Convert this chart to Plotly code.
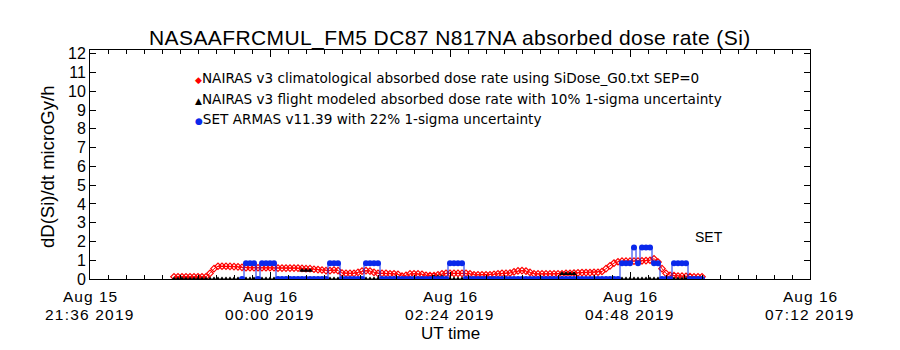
import pandas as pd
import plotly.graph_objects as go

# ---------------- data ----------------
T_START = "2019-08-15 21:36"
T_END = "2019-08-16 07:12"

# NAIRAS v3 climatological absorbed dose rate (microGy/h), sampled every 192 s
red_start = "2019-08-15 22:43:12"
red_step_s = 192
red_values = [
    0.12, 0.12, 0.12, 0.12, 0.12, 0.12, 0.12, 0.12, 0.12, 0.30,
    0.55, 0.68, 0.68, 0.68, 0.67, 0.66, 0.65, 0.62, 0.60, 0.60,
    0.60, 0.60, 0.60, 0.60, 0.60, 0.60, 0.58, 0.58, 0.58, 0.58,
    0.58, 0.58, 0.57, 0.55, 0.55, 0.52, 0.50, 0.48, 0.45, 0.45,
    0.48, 0.45, 0.32, 0.30, 0.30, 0.30, 0.35, 0.42, 0.45, 0.42,
    0.35, 0.30, 0.30, 0.30, 0.28, 0.28, 0.25, 0.15, 0.20, 0.27,
    0.28, 0.27, 0.25, 0.20, 0.18, 0.18, 0.22, 0.28, 0.30, 0.30,
    0.30, 0.30, 0.30, 0.30, 0.28, 0.22, 0.22, 0.22, 0.22, 0.22,
    0.25, 0.28, 0.30, 0.30, 0.32, 0.38, 0.43, 0.45, 0.42, 0.35,
    0.28, 0.27, 0.27, 0.27, 0.27, 0.27, 0.27, 0.28, 0.30, 0.30,
    0.32, 0.33, 0.34, 0.34, 0.34, 0.35, 0.36, 0.40, 0.55, 0.70,
    0.85, 0.92, 0.95, 0.95, 0.95, 0.95, 0.96, 0.97, 0.98, 1.00,
    1.08, 0.90, 0.55, 0.30, 0.20, 0.18, 0.16, 0.15, 0.14, 0.13,
    0.12, 0.12, 0.12,
]

# NAIRAS v3 flight modeled absorbed dose rate (same sampling as above)
black_values = [
    0, 0, 0, 0, 0, 0, 0, 0, 0, 0,
    0, 0, 0, 0, 0, 0, 0, 0, 0, 0,
    0, 0, 0, 0, 0, 0, 0, 0, 0, 0,
    0, 0, 0.45, 0.45, 0.45, 0, 0, 0, 0, 0,
    0, 0, 0, 0, 0, 0, 0, 0, 0, 0,
    0, 0, 0, 0, 0, 0, 0, 0, 0, 0,
    0, 0, 0, 0, 0, 0.10, 0.10, 0.10, 0, 0,
    0, 0, 0, 0, 0, 0, 0, 0, 0, 0,
    0, 0, 0, 0, 0, 0, 0, 0, 0, 0,
    0, 0, 0, 0, 0, 0, 0, 0.28, 0.28, 0.28,
    0.28, 0, 0, 0, 0, 0, 0, 0, 0, 0,
    0, 0, 0, 0, 0, 0, 0, 0, 0, 0,
    0, 0, 0, 0, 0, 0, 0, 0, 0, 0,
    0, 0, 0,
]

# SET ARMAS v11.39 absorbed dose rate, sampled every 192 s
blue_start = "2019-08-15 23:37:36"
blue_step_s = 192
blue_values = [
    0, 0.84, 0.84, 0.84, 0, 0.84, 0.84, 0.84, 0.84, 0,
    0, 0, 0, 0, 0, 0, 0, 0, 0, 0,
    0, 0, 0.84, 0.84, 0.84, 0, 0, 0, 0, 0,
    0, 0.84, 0.84, 0.84, 0.84, 0, 0, 0, 0, 0,
    0, 0, 0, 0, 0, 0, 0, 0, 0, 0,
    0, 0, 0.84, 0.84, 0.84, 0.84, 0, 0, 0, 0,
    0, 0, 0, 0, 0, 0, 0, 0, 0, 0,
    0, 0, 0, 0, 0, 0, 0, 0, 0, 0,
    0, 0, 0, 0, 0, 0, 0, 0, 0, 0,
    0, 0, 0, 0, 0, 0.84, 0.84, 0.84, 1.68, 0.84,
    1.68, 1.68, 1.68, 0.84, 0.84, 0, 0, 0, 0.84, 0.84,
    0.84, 0.84, 0, 0, 0, 0,
]

x_tick_times = ["2019-08-15 21:36", "2019-08-16 00:00", "2019-08-16 02:24",
                "2019-08-16 04:48", "2019-08-16 07:12"]
x_tick_dates = ["Aug 15", "Aug 16", "Aug 16", "Aug 16", "Aug 16"]
x_tick_clock = ["21:36 2019", "00:00 2019", "02:24 2019", "04:48 2019", "07:12 2019"]
y_ticks = list(range(0, 13))

legend_labels = [
    "NAIRAS v3 climatological absorbed dose rate using SiDose_G0.txt SEP=0",
    "NAIRAS v3 flight modeled absorbed dose rate with 10% 1-sigma uncertainty",
    "SET ARMAS v11.39 with 22% 1-sigma uncertainty",
]
title_text = "NASAAFRCMUL_FM5 DC87 N817NA absorbed dose rate (Si)"
set_label_time = "2019-08-16 05:51"
set_label_value = 2.24

# ---------------- build ----------------
red_t = pd.date_range(red_start, periods=len(red_values), freq=f"{red_step_s}s")
blue_t = pd.date_range(blue_start, periods=len(blue_values), freq=f"{blue_step_s}s")

RED = "rgb(255,0,0)"
BLUE = "rgb(10,40,235)"
FONT = "Liberation Sans"

fig = go.Figure()
fig.add_trace(go.Scatter(
    x=red_t, y=red_values, mode="lines+markers",
    line=dict(color=RED, width=1),
    marker=dict(symbol="diamond-open", size=5, color=RED, line=dict(width=1.2, color=RED)),
    showlegend=False, cliponaxis=True))
fig.add_trace(go.Scatter(
    x=red_t, y=black_values, mode="markers",
    marker=dict(symbol="triangle-up", size=5, color="black"),
    showlegend=False))
fig.add_trace(go.Scatter(
    x=blue_t, y=blue_values, mode="lines+markers",
    line=dict(color=BLUE, width=1, shape="hvh"),
    marker=dict(symbol="circle", size=6, color=BLUE),
    showlegend=False))

axis_common = dict(showline=True, linecolor="black", linewidth=1, mirror="ticks",
                   ticks="inside", tickcolor="black", showgrid=False, zeroline=False)

fig.update_layout(
    width=900, height=350,
    margin=dict(l=90, r=90, t=50, b=71),
    paper_bgcolor="white", plot_bgcolor="white",
    font=dict(family=FONT, color="black"),
    xaxis=dict(type="date", range=[T_START, T_END], tickmode="array",
               tickvals=x_tick_times, showticklabels=False, ticklen=7,
               minor=dict(ticks="inside", ticklen=4, tickcolor="black",
                          dtick=864000, tick0=T_START, showgrid=False),
               **axis_common),
    yaxis=dict(range=[0, 12.2], tickmode="array", tickvals=y_ticks, ticklen=6,
               tickfont=dict(family=FONT, size=16, color="black"),
               **axis_common),
)

ann = []
ann.append(dict(text=f"<span style='letter-spacing:0.4px'>{title_text}</span>",
                xref="paper", yref="paper", x=0.5, y=(279 - 38) / 229,
                xanchor="center", yanchor="middle", showarrow=False,
                font=dict(family=FONT, size=21)))
ann.append(dict(text="dD(Si)/dt microGy/h", xref="paper", yref="paper",
                x=(47 - 90) / 720, y=(279 - 167) / 229, textangle=-90,
                xanchor="center", yanchor="middle", showarrow=False,
                font=dict(family=FONT, size=18.5)))
ann.append(dict(text="UT time", xref="paper", yref="paper", x=0.5, y=(279 - 333) / 229,
                xanchor="center", yanchor="middle", showarrow=False,
                font=dict(family=FONT, size=17)))
for tv, d, c in zip(x_tick_times, x_tick_dates, x_tick_clock):
    ann.append(dict(text=f"<span style='letter-spacing:1px'>{d}</span>", x=tv,
                    xref="x", yref="paper", y=(279 - 296) / 229, borderpad=0,
                    xanchor="center", yanchor="middle", showarrow=False,
                    font=dict(family=FONT, size=15.5)))
    ann.append(dict(text=f"<span style='letter-spacing:1.2px'>{c}</span>", x=tv,
                    xref="x", yref="paper", y=(279 - 314) / 229, borderpad=0,
                    xanchor="center", yanchor="middle", showarrow=False,
                    font=dict(family=FONT, size=15.5)))
ann.append(dict(text="SET", x=set_label_time, y=set_label_value, xref="x", yref="y",
                showarrow=False, xanchor="center", yanchor="middle",
                font=dict(family=FONT, size=14)))
sym = [("◆", RED), ("▲", "black"), ("●", BLUE)]
ys = [78, 99, 119]
for (s, c), lab, yy in zip(sym, legend_labels, ys):
    ann.append(dict(
        text=f"<span style='color:{c};font-size:9px'>{s}</span>{lab}",
        xref="paper", yref="paper", x=(193 - 90) / 720, y=(279 - yy) / 229,
        xanchor="left", yanchor="middle", showarrow=False,
        font=dict(family="DejaVu Sans", size=13.6, color="black")))
fig.update_layout(annotations=ann)

fig.write_html("out.html")
